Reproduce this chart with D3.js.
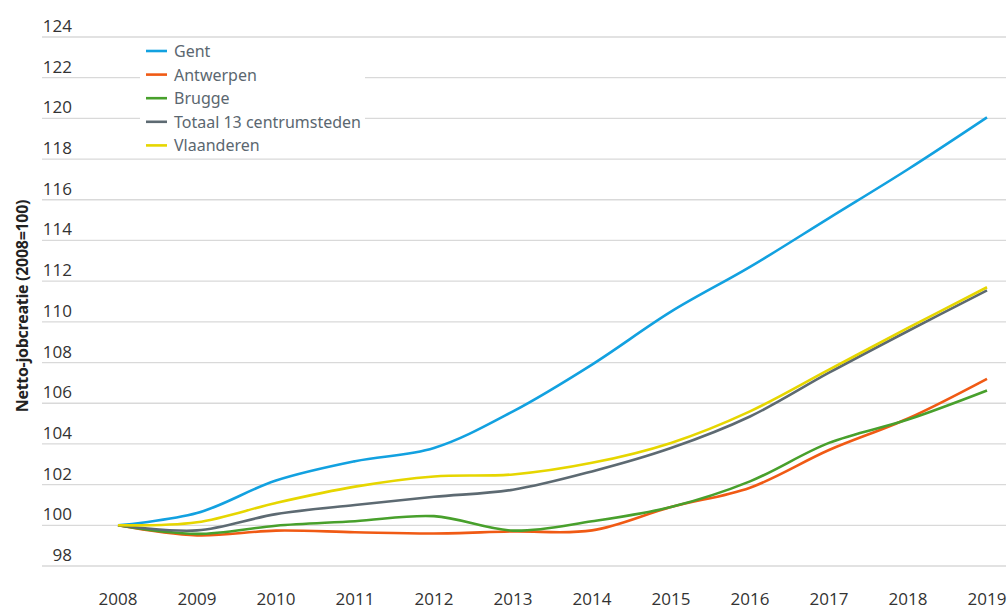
<!DOCTYPE html>
<html lang="nl">
<head>
<meta charset="utf-8" />
<title>Netto-jobcreatie</title>
<script src="https://d3js.org/d3.v7.min.js"></script>
<style>
  body { margin: 0; background: #fff; }
  svg { display: block; }
</style>
</head>
<body>
<script>
    // data
    const years = [2008, 2009, 2010, 2011, 2012, 2013, 2014, 2015, 2016, 2017, 2018, 2019];
    const gent       = [100, 100.6, 102.2, 103.15, 103.8, 105.6, 107.9, 110.5, 112.7, 115.1, 117.5, 120.05];
    const antwerpen  = [100, 99.5, 99.74, 99.66, 99.6, 99.7, 99.75, 100.9, 101.85, 103.7, 105.25, 107.2];
    const brugge     = [100, 99.58, 99.98, 100.2, 100.45, 99.74, 100.2, 100.9, 102.16, 104.05, 105.2, 106.63];
    const totaal     = [100, 99.75, 100.55, 101.0, 101.4, 101.75, 102.65, 103.8, 105.35, 107.5, 109.55, 111.55];
    const vlaanderen = [100, 100.15, 101.1, 101.9, 102.4, 102.5, 103.07, 104.05, 105.6, 107.65, 109.7, 111.7];
    const yTicks = [98, 100, 102, 104, 106, 108, 110, 112, 114, 116, 118, 120, 122, 124];

    const series = [
        { name: "Gent", values: gent, color: "#12a1e0" },
        { name: "Antwerpen", values: antwerpen, color: "#f05a14" },
        { name: "Brugge", values: brugge, color: "#48a02c" },
        { name: "Totaal 13 centrumsteden", values: totaal, color: "#5d6a72" },
        { name: "Vlaanderen", values: vlaanderen, color: "#e6d600" }
    ];

    const width = 1008, height = 610;

    const svg = d3.select("body")
        .append("svg")
        .attr("width", width)
        .attr("height", height);

    const xScale = d3.scaleLinear()
        .domain([2008, 2019])
        .range([118, 987]);

    const yScale = d3.scaleLinear()
        .domain([98, 124])
        .range([566, 37]);

    // gridlines
    svg.append("g")
        .selectAll("line")
        .data(yTicks)
        .enter()
        .append("line")
        .attr("x1", 42)
        .attr("x2", 1006)
        .attr("y1", d => yScale(d))
        .attr("y2", d => yScale(d))
        .attr("stroke", "#d9d9d9")
        .attr("stroke-width", 1.3);

    // y tick labels (sit above each gridline)
    svg.append("g")
        .selectAll("text")
        .data(yTicks)
        .enter()
        .append("text")
        .attr("x", 72)
        .attr("y", d => yScale(d) - 5)
        .attr("text-anchor", "end")
        .attr("font-family", "'Open Sans', sans-serif")
        .attr("font-size", 17)
        .attr("fill", "#333")
        .text(d => d);

    // x tick labels
    svg.append("g")
        .selectAll("text")
        .data(years)
        .enter()
        .append("text")
        .attr("x", d => xScale(d))
        .attr("y", 605)
        .attr("text-anchor", "middle")
        .attr("font-family", "'Open Sans', sans-serif")
        .attr("font-size", 17)
        .attr("fill", "#333")
        .text(d => d);

    // y axis title
    svg.append("text")
        .attr("transform", "translate(28, 306) rotate(-90)")
        .attr("text-anchor", "middle")
        .attr("font-family", "'Open Sans', sans-serif")
        .attr("font-weight", "bold")
        .attr("font-size", 16)
        .attr("letter-spacing", -0.3)
        .attr("fill", "#222")
        .text("Netto-jobcreatie (2008=100)");

    // lines
    const line = d3.line()
        .x((d, i) => xScale(years[i]))
        .y(d => yScale(d))
        .curve(d3.curveCatmullRom.alpha(0.5));

    svg.append("g")
        .selectAll("path")
        .data(series)
        .enter()
        .append("path")
        .attr("d", d => line(d.values))
        .attr("fill", "none")
        .attr("stroke", d => d.color)
        .attr("stroke-width", 2.6)
        .attr("stroke-linejoin", "round");

    // legend with white background over the grid
    const legend = svg.append("g");
    legend.append("rect")
        .attr("x", 140)
        .attr("y", 40)
        .attr("width", 225)
        .attr("height", 116)
        .attr("fill", "#fff");

    const item = legend.selectAll("g.item")
        .data(series)
        .enter()
        .append("g")
        .attr("class", "item")
        .attr("transform", (d, i) => "translate(0," + (51 + i * 23.6) + ")");

    item.append("line")
        .attr("x1", 146)
        .attr("x2", 167)
        .attr("stroke", d => d.color)
        .attr("stroke-width", 2.6);

    item.append("text")
        .attr("x", 174)
        .attr("y", 6)
        .attr("font-family", "'Noto Sans', sans-serif")
        .attr("font-size", 16)
        .attr("fill", "#5b6770")
        .text(d => d.name);
</script>
</body>
</html>
